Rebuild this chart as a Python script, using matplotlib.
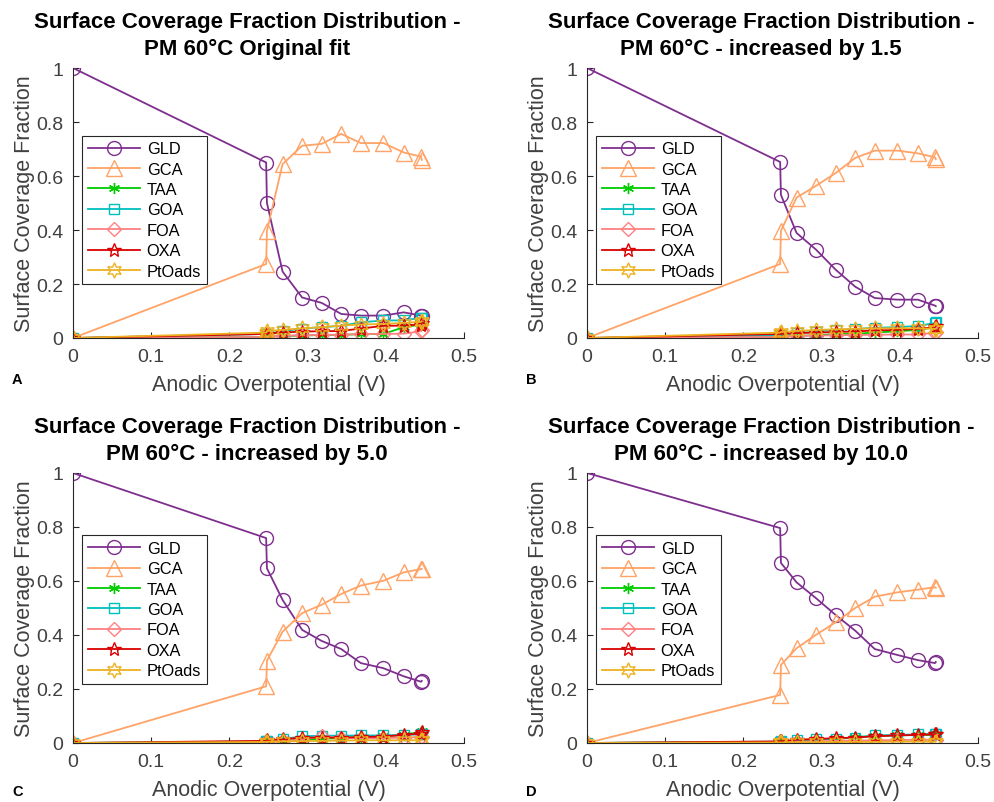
import matplotlib
matplotlib.use('Agg')
import matplotlib.pyplot as plt
from matplotlib.ticker import FuncFormatter

plt.rcParams['font.family'] = ['Liberation Sans', 'DejaVu Sans']

# anodic overpotential (V), same for all four runs
eta = [0, 0.247, 0.248, 0.268, 0.293, 0.318, 0.343, 0.368, 0.397, 0.423, 0.445, 0.446]

species = ['GLD', 'GCA', 'TAA', 'GOA', 'FOA', 'OXA', 'PtOads']

# A - original fit
gld_a = [1.0, 0.65, 0.50, 0.246, 0.15, 0.13, 0.089, 0.083, 0.083, 0.095, 0.083, 0.08]
gca_a = [0.0, 0.274, 0.397, 0.644, 0.712, 0.719, 0.756, 0.722, 0.722, 0.687, 0.672, 0.66]
taa_a = [0.0, 0.004, 0.005, 0.007, 0.009, 0.011, 0.012, 0.014, 0.015, 0.04, 0.05, 0.05]
goa_a = [0.0, 0.015, 0.016, 0.025, 0.035, 0.04, 0.045, 0.058, 0.065, 0.065, 0.075, 0.075]
foa_a = [0.0, 0.004, 0.005, 0.009, 0.01, 0.012, 0.012, 0.015, 0.015, 0.016, 0.025, 0.03]
oxa_a = [0.0, 0.015, 0.015, 0.02, 0.024, 0.025, 0.026, 0.035, 0.045, 0.046, 0.05, 0.055]
pto_a = [0.0, 0.02, 0.026, 0.03, 0.036, 0.04, 0.046, 0.05, 0.052, 0.056, 0.06, 0.062]

# B - increased by 1.5
gld_b = [1.0, 0.652, 0.53, 0.389, 0.327, 0.253, 0.19, 0.148, 0.142, 0.142, 0.12, 0.118]
gca_b = [0.0, 0.274, 0.397, 0.52, 0.564, 0.611, 0.667, 0.694, 0.694, 0.684, 0.669, 0.662]
taa_b = [0.0, 0.004, 0.005, 0.008, 0.01, 0.014, 0.016, 0.02, 0.025, 0.03, 0.04, 0.045]
goa_b = [0.0, 0.01, 0.012, 0.018, 0.024, 0.03, 0.033, 0.038, 0.04, 0.045, 0.055, 0.06]
foa_b = [0.0, 0.004, 0.005, 0.008, 0.009, 0.01, 0.011, 0.012, 0.013, 0.013, 0.02, 0.022]
oxa_b = [0.0, 0.015, 0.015, 0.018, 0.02, 0.022, 0.024, 0.028, 0.03, 0.034, 0.04, 0.045]
pto_b = [0.0, 0.02, 0.022, 0.026, 0.03, 0.032, 0.034, 0.036, 0.036, 0.036, 0.034, 0.034]

# C - increased by 5.0
gld_c = [1.0, 0.759, 0.647, 0.53, 0.419, 0.378, 0.348, 0.296, 0.277, 0.247, 0.227, 0.23]
gca_c = [0.0, 0.21, 0.305, 0.412, 0.481, 0.512, 0.552, 0.583, 0.601, 0.632, 0.644, 0.645]
taa_c = [0.0, 0.003, 0.004, 0.008, 0.012, 0.016, 0.018, 0.022, 0.025, 0.03, 0.042, 0.045]
goa_c = [0.0, 0.006, 0.008, 0.014, 0.025, 0.027, 0.027, 0.028, 0.028, 0.03, 0.032, 0.033]
foa_c = [0.0, 0.003, 0.004, 0.008, 0.012, 0.025, 0.018, 0.018, 0.018, 0.02, 0.022, 0.024]
oxa_c = [0.0, 0.008, 0.01, 0.014, 0.02, 0.02, 0.02, 0.022, 0.024, 0.03, 0.035, 0.04]
pto_c = [0.0, 0.004, 0.005, 0.006, 0.007, 0.008, 0.009, 0.01, 0.01, 0.01, 0.01, 0.01]

# D - increased by 10.0
gld_d = [1.0, 0.796, 0.667, 0.595, 0.536, 0.474, 0.416, 0.348, 0.326, 0.307, 0.296, 0.3]
gca_d = [0.0, 0.178, 0.289, 0.351, 0.401, 0.447, 0.5, 0.542, 0.558, 0.568, 0.577, 0.575]
taa_d = [0.0, 0.004, 0.005, 0.008, 0.012, 0.015, 0.022, 0.026, 0.028, 0.03, 0.03, 0.032]
goa_d = [0.0, 0.005, 0.006, 0.01, 0.013, 0.016, 0.02, 0.028, 0.03, 0.032, 0.034, 0.034]
foa_d = [0.0, 0.003, 0.003, 0.005, 0.006, 0.008, 0.009, 0.01, 0.011, 0.012, 0.012, 0.012]
oxa_d = [0.0, 0.006, 0.007, 0.012, 0.015, 0.018, 0.02, 0.025, 0.028, 0.03, 0.032, 0.034]
pto_d = [0.0, 0.002, 0.002, 0.003, 0.003, 0.004, 0.004, 0.004, 0.005, 0.005, 0.005, 0.005]

colors = ['#7E2F8E', '#FFA366', '#00CC00', '#00BFBF', '#FF8080', '#D90000', '#EDB120']
markers = ['o', '^', (6, 2, 0), 's', 'D', '*', (6, 1, 0)]
msizes = [10, 11, 8, 7, 7, 10, 11]

panels = [
    ([gld_a, gca_a, taa_a, goa_a, foa_a, oxa_a, pto_a], 'PM 60°C Original fit', 'A'),
    ([gld_b, gca_b, taa_b, goa_b, foa_b, oxa_b, pto_b], 'PM 60°C - increased by 1.5', 'B'),
    ([gld_c, gca_c, taa_c, goa_c, foa_c, oxa_c, pto_c], 'PM 60°C - increased by 5.0', 'C'),
    ([gld_d, gca_d, taa_d, goa_d, foa_d, oxa_d, pto_d], 'PM 60°C - increased by 10.0', 'D'),
]

W, H = 994, 803
boxes = [(73, 339), (587, 339), (73, 744), (587, 744)]
legend_top = [0.75, 0.75, 0.77, 0.77]
letter_pos = [(12, 384), (526, 384), (12, 796), (526, 796)]
axis_grey = '#404040'


def fmt(v, pos):
    return '%g' % round(v, 3)


def draw_panel(ax, series, subtitle, letter, lpos, ltop):
    for vals, name, c, m, ms in zip(series, species, colors, markers, msizes):
        ax.plot(eta, vals, color=c, marker=m, markersize=ms, fillstyle='none',
                markeredgewidth=1.0, linewidth=1.3, label=name)
    ax.set_xlim(0, 0.5)
    ax.set_ylim(0, 1)
    ax.set_xticks([0, 0.1, 0.2, 0.3, 0.4, 0.5])
    ax.set_yticks([0, 0.2, 0.4, 0.6, 0.8, 1])
    ax.xaxis.set_major_formatter(FuncFormatter(fmt))
    ax.yaxis.set_major_formatter(FuncFormatter(fmt))
    for s in ['top', 'right']:
        ax.spines[s].set_visible(False)
    for s in ['left', 'bottom']:
        ax.spines[s].set_color('#262626')
        ax.spines[s].set_linewidth(0.8)
    ax.tick_params(direction='in', length=4, labelsize=14, colors='#262626',
                   labelcolor=axis_grey, pad=7)
    ax.set_xlabel('Anodic Overpotential (V)', fontsize=15.5, color=axis_grey, labelpad=7)
    ax.set_ylabel('Surface Coverage Fraction', fontsize=15.5, color=axis_grey, labelpad=1)
    ax.set_title('Surface Coverage Fraction Distribution -\n' + subtitle,
                 fontsize=16, fontweight='bold', x=0.445, pad=10, linespacing=1.38)
    leg = ax.legend(loc='upper left', bbox_to_anchor=(0.023, ltop), borderaxespad=0,
                    fontsize=11.8, handlelength=3.2, labelspacing=0.33, borderpad=0.35,
                    handletextpad=0.4, fancybox=False, framealpha=1)
    leg.get_frame().set_edgecolor('#262626')
    leg.get_frame().set_linewidth(0.8)
    ax.figure.text(lpos[0] / W, 1 - lpos[1] / H, letter, fontsize=10.5,
                   fontweight='bold', ha='left', va='baseline')


fig = plt.figure(figsize=(W / 100, H / 100), dpi=100)
for (series, subtitle, letter), (x0, y0), lpos, ltop in zip(panels, boxes, letter_pos, legend_top):
    ax = fig.add_axes([x0 / W, 1 - y0 / H, 391 / W, 270 / H])
    draw_panel(ax, series, subtitle, letter, lpos, ltop)

fig.savefig('out.png', dpi=100)
